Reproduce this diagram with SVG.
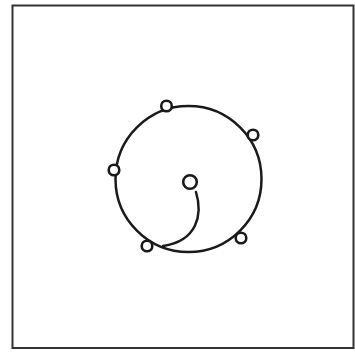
<svg xmlns="http://www.w3.org/2000/svg" width="355" height="358" viewBox="0 0 355 358">
<style>
.ln{fill:none;stroke:#1a1a1a;stroke-width:2.5;stroke-linecap:round}
.fr{fill:none;stroke:#333;stroke-width:2}
.dot{fill:#fff;stroke:#1a1a1a;stroke-width:2.6}
</style>
<rect width="355" height="358" fill="#fff"/>
<g id="frame"><rect class="fr" x="12.5" y="5.5" width="341" height="342.5"/></g>
<g id="ring"><circle class="ln" cx="188.5" cy="179" r="73"/></g>
<g id="connectors"><path class="ln" d="M196,192 C203,215 197,241 163,246"/></g>
<g id="hub"><circle class="dot" cx="190" cy="182" r="6.8"/></g>
<g id="p1"><circle class="dot" cx="166.5" cy="106" r="5.3"/></g>
<g id="p2"><circle class="dot" cx="253" cy="135" r="5.3"/></g>
<g id="p3"><circle class="dot" cx="114" cy="170" r="5.3"/></g>
<g id="p4"><circle class="dot" cx="147" cy="246" r="5.3"/></g>
<g id="p5"><circle class="dot" cx="241" cy="238" r="5.3"/></g>
</svg>
